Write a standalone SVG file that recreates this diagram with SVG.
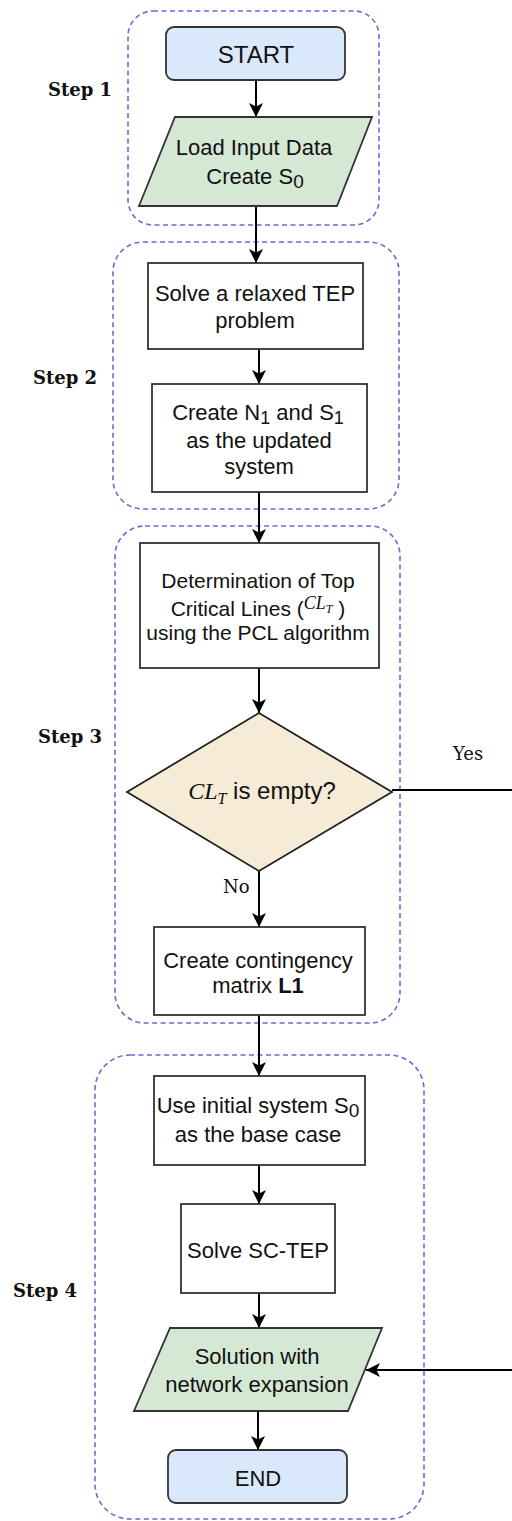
<svg xmlns="http://www.w3.org/2000/svg" width="512" height="1521" viewBox="0 0 512 1521">
<style>
.grp{fill:none;stroke:#6a6ad8;stroke-width:1.6;stroke-dasharray:5 3.5}
.box{fill:#fff;stroke:#333;stroke-width:1.8}
.term{fill:#dae8fc;stroke:#333;stroke-width:1.8}
.io{fill:#d5e8d4;stroke:#333;stroke-width:1.8}
.dec{fill:#f5ebd7;stroke:#222;stroke-width:1.8}
.t{font-family:"Liberation Sans",Arial,sans-serif;font-size:22px;fill:#111;text-anchor:middle}
.m{font-family:"Liberation Serif","Times New Roman",serif;font-style:italic}
.step{font-family:"DejaVu Serif",serif;font-weight:bold;font-size:18px;fill:#111}
.lbl{font-family:"DejaVu Serif",serif;font-size:18px;fill:#111}
.c{fill:none;stroke:#000;stroke-width:2}
</style>
<defs>
<marker id="arr" markerUnits="userSpaceOnUse" markerWidth="14" markerHeight="14" viewBox="0 0 12 12" refX="12" refY="6" orient="auto">
<path d="M0,0 L12,6 L0,12 L3,6 z" fill="#000"/>
</marker>
</defs>
<rect width="512" height="1521" fill="#fff"/>

<g id="groups">
<rect class="grp" x="128" y="11" width="251" height="214" rx="25"/>
<rect class="grp" x="113" y="242" width="286" height="267" rx="30"/>
<rect class="grp" x="115" y="526" width="285" height="497" rx="30"/>
<rect class="grp" x="95" y="1055" width="329" height="464" rx="35"/>
<text class="step" x="48" y="96">Step 1</text>
<text class="step" x="33" y="384">Step 2</text>
<text class="step" x="38" y="743">Step 3</text>
<text class="step" x="13" y="1297">Step 4</text>
</g>

<g id="connectors">
<path class="c" d="M256,80 V117" marker-end="url(#arr)"/>
<path class="c" d="M256,206 V263" marker-end="url(#arr)"/>
<path class="c" d="M259,349 V384" marker-end="url(#arr)"/>
<path class="c" d="M259,492 V543" marker-end="url(#arr)"/>
<path class="c" d="M259,668 V713" marker-end="url(#arr)"/>
<path class="c" d="M259,871 V927" marker-end="url(#arr)"/>
<path class="c" d="M259,1015 V1076" marker-end="url(#arr)"/>
<path class="c" d="M259,1165 V1204" marker-end="url(#arr)"/>
<path class="c" d="M259,1293 V1328" marker-end="url(#arr)"/>
<path class="c" d="M258,1411 V1450" marker-end="url(#arr)"/>
<path class="c" d="M392,790 H530 V1370 H366" marker-end="url(#arr)"/>
<text class="lbl" x="453" y="760">Yes</text>
<text class="lbl" x="223" y="893">No</text>
</g>

<g id="start">
<rect class="term" x="166" y="27" width="179" height="53" rx="8"/>
<text class="t" x="256" y="63" style="font-size:24px">START</text>
</g>

<g id="load">
<polygon class="io" points="175,117 372,117 337,206 139,206"/>
<text class="t" x="254" y="155">Load Input Data</text>
<text class="t" x="255" y="184">Create S<tspan dy="4" font-size="19">0</tspan></text>
</g>

<g id="relaxed">
<rect class="box" x="148" y="263" width="215" height="86"/>
<text class="t" x="255" y="301">Solve a relaxed TEP</text>
<text class="t" x="255" y="328">problem</text>
</g>

<g id="createN1">
<rect class="box" x="152" y="384" width="215" height="108"/>
<text class="t" x="258" y="420">Create N<tspan dy="4" font-size="18">1</tspan><tspan dy="-4"> and S</tspan><tspan dy="4" font-size="18">1</tspan></text>
<text class="t" x="259" y="448">as the updated</text>
<text class="t" x="259" y="474">system</text>
</g>

<g id="determination">
<rect class="box" x="140" y="543" width="239" height="125"/>
<text class="t" x="258" y="588" style="font-size:21px">Determination of Top</text>
<text class="t" x="258" y="616" style="font-size:21px">Critical Lines (<tspan class="m" dy="-7" font-size="18">CL</tspan><tspan class="m" dy="4" font-size="12">T</tspan><tspan dy="3"> )</tspan></text>
<text class="t" x="258" y="640" style="font-size:21px">using the PCL algorithm</text>
</g>

<g id="decision">
<polygon class="dec" points="259,713 392,792 259,871 127,792"/>
<text class="t" x="262" y="799" style="font-size:24px"><tspan class="m">CL</tspan><tspan class="m" dy="5" font-size="16">T</tspan><tspan dy="-5"> is empty?</tspan></text>
</g>

<g id="contingency">
<rect class="box" x="154" y="927" width="211" height="88"/>
<text class="t" x="258" y="968">Create contingency</text>
<text class="t" x="258" y="993">matrix <tspan font-weight="bold">L1</tspan></text>
</g>

<g id="initial">
<rect class="box" x="154" y="1076" width="211" height="89"/>
<text class="t" x="258" y="1113">Use initial system S<tspan dy="4" font-size="19">0</tspan></text>
<text class="t" x="258" y="1142">as the base case</text>
</g>

<g id="sctep">
<rect class="box" x="181" y="1204" width="154" height="89"/>
<text class="t" x="258" y="1258">Solve SC-TEP</text>
</g>

<g id="solution">
<polygon class="io" points="170,1328 382,1328 348,1411 134,1411"/>
<text class="t" x="257" y="1364">Solution with</text>
<text class="t" x="257" y="1392">network expansion</text>
</g>

<g id="end">
<rect class="term" x="168" y="1450" width="179" height="53" rx="8"/>
<text class="t" x="258" y="1486">END</text>
</g>
</svg>
